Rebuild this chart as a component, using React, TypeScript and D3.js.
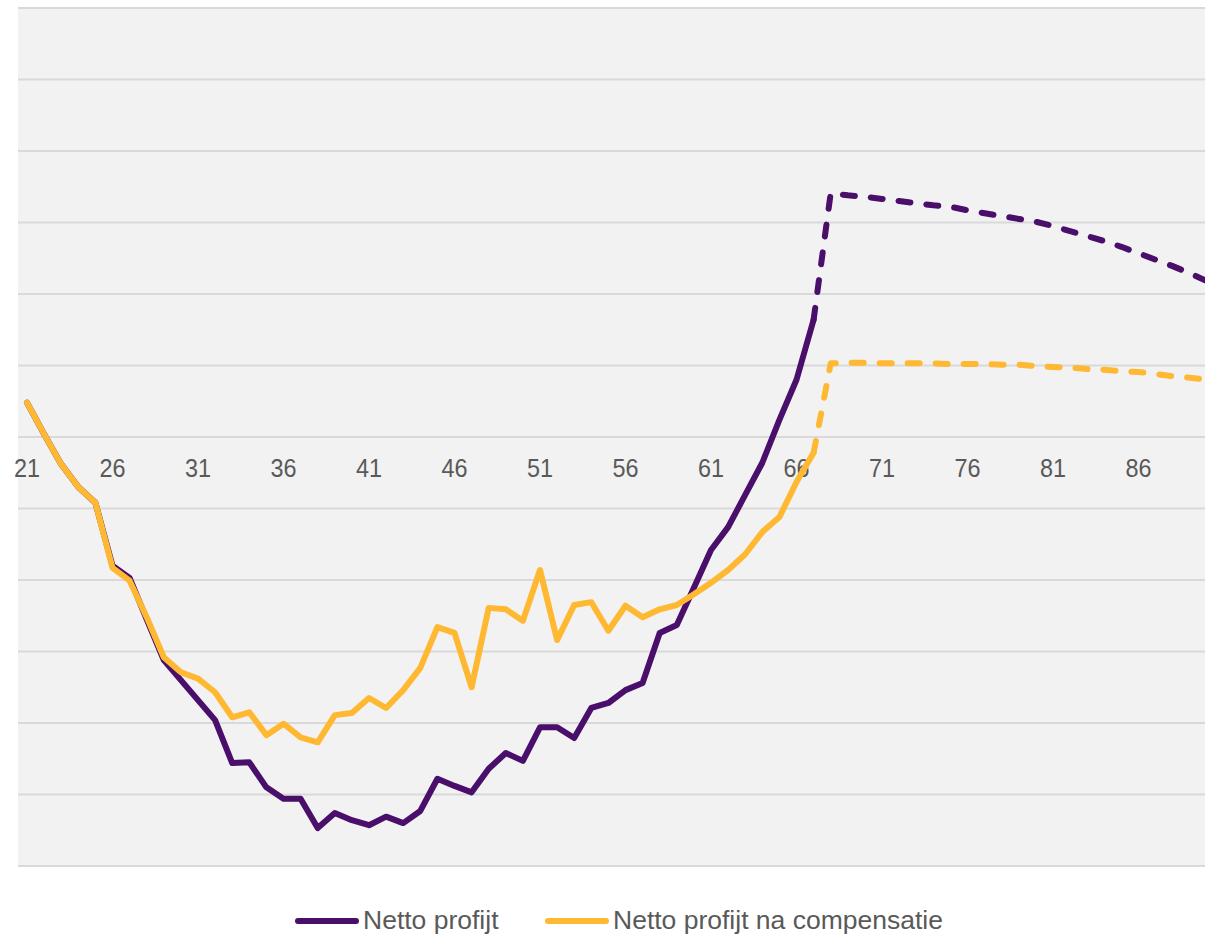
import React from "react";
import * as d3 from "d3";

// ages on the category axis
const ages = [
  21, 22, 23, 24, 25, 26, 27, 28, 29, 30, 31, 32, 33, 34, 35, 36, 37, 38, 39, 40,
  41, 42, 43, 44, 45, 46, 47, 48, 49, 50, 51, 52, 53, 54, 55, 56, 57, 58, 59, 60,
  61, 62, 63, 64, 65, 66, 67, 68, 69, 70, 71, 72, 73, 74, 75, 76, 77, 78, 79, 80,
  81, 82, 83, 84, 85, 86, 87, 88, 89, 90,
];

const tickLabels = ["21", "26", "31", "36", "41", "46", "51", "56", "61", "66", "71", "76", "81", "86"];

// Netto profijt (one unit = one gridline)
const nettoProfijt = [
  0.48, 0.04, -0.38, -0.7, -0.92, -1.8, -1.97, -2.55, -3.12, -3.4,
  -3.68, -3.96, -4.56, -4.55, -4.9, -5.06, -5.06, -5.47, -5.26, -5.36,
  -5.43, -5.31, -5.4, -5.23, -4.78, -4.88, -4.97, -4.64, -4.42, -4.53,
  -4.06, -4.06, -4.21, -3.79, -3.72, -3.54, -3.44, -2.74, -2.63, -2.11,
  -1.58, -1.26, -0.81, -0.36, 0.24, 0.8, 1.64, 3.41, 3.38, 3.36,
  3.33, 3.3, 3.27, 3.24, 3.22, 3.17, 3.13, 3.09, 3.05, 3.01,
  2.95, 2.88, 2.81, 2.74, 2.66, 2.57, 2.48, 2.39, 2.29, 2.18,
];

// Netto profijt na compensatie
const nettoNaCompensatie = [
  0.48, 0.04, -0.38, -0.7, -0.92, -1.83, -2.01, -2.52, -3.08, -3.29,
  -3.38, -3.57, -3.92, -3.85, -4.17, -4.01, -4.2, -4.27, -3.89, -3.86,
  -3.65, -3.79, -3.54, -3.23, -2.66, -2.74, -3.5, -2.39, -2.41, -2.57,
  -1.86, -2.84, -2.35, -2.31, -2.71, -2.36, -2.52, -2.41, -2.35, -2.2,
  -2.04, -1.86, -1.64, -1.33, -1.12, -0.63, -0.22, 1.03, 1.04, 1.04,
  1.03, 1.03, 1.03, 1.03, 1.02, 1.02, 1.02, 1.01, 1.01, 0.99,
  0.98, 0.97, 0.95, 0.94, 0.92, 0.91, 0.88, 0.85, 0.83, 0.8,
];

const lastActualAge = 67; // after this the lines are projected (dashed)

const seriesNames = ["Netto profijt", "Netto profijt na compensatie"];
const colors = ["#4a0e6b", "#ffb832"];

function drawChart(svgRef) {
  const W = 1205;
  const H = 937;
  const svg = d3.select(svgRef.current);
  svg.selectAll("*").remove();
  svg.attr("width", W).attr("height", H);

  const left = 18;
  const top = 8;
  const bottom = 866;

  const x = d3
    .scalePoint()
    .domain(ages)
    .range([27, 27 + (ages.length - 1) * 17.1]);
  const y = d3.scaleLinear().domain([-6, 6]).range([bottom, top]);

  svg
    .append("rect")
    .attr("x", left)
    .attr("y", top - 1)
    .attr("width", W - left)
    .attr("height", bottom - top + 1)
    .attr("fill", "#f2f2f2");

  // gridlines
  svg
    .append("g")
    .selectAll("line")
    .data(d3.range(-6, 7))
    .join("line")
    .attr("x1", left)
    .attr("x2", W)
    .attr("y1", (d) => y(d))
    .attr("y2", (d) => y(d))
    .attr("stroke", "#d9d9d9")
    .attr("stroke-width", 2);

  // category labels sit just under the zero line
  svg
    .append("g")
    .selectAll("text")
    .data(tickLabels)
    .join("text")
    .attr("transform", (d) => `translate(${x(+d)},477) scale(0.9,1)`)
    .attr("text-anchor", "middle")
    .attr("font-family", "'Liberation Sans', Arial, sans-serif")
    .attr("font-size", 26)
    .attr("fill", "#595959")
    .text((d) => d);

  const line = d3
    .line()
    .x((d) => x(d.age))
    .y((d) => y(d.v));

  svg
    .append("clipPath")
    .attr("id", "plotclip")
    .append("rect")
    .attr("x", left)
    .attr("y", 0)
    .attr("width", W - left)
    .attr("height", H);

  const plot = svg.append("g").attr("clip-path", "url(#plotclip)");

  [nettoProfijt, nettoNaCompensatie].forEach((vals, i) => {
    const pts = ages.map((a, j) => ({ age: a, v: vals[j] }));
    const actual = pts.filter((p) => p.age <= lastActualAge);
    const projected = pts.filter((p) => p.age >= lastActualAge);

    plot
      .append("path")
      .datum(projected)
      .attr("fill", "none")
      .attr("stroke", colors[i])
      .attr("stroke-width", 6)
      .attr("stroke-linejoin", "round")
      .attr("stroke-linecap", "round")
      .attr("stroke-dasharray", "12 16")
      .attr("d", line);

    plot
      .append("path")
      .datum(actual)
      .attr("fill", "none")
      .attr("stroke", colors[i])
      .attr("stroke-width", 6)
      .attr("stroke-linejoin", "round")
      .attr("stroke-linecap", "round")
      .attr("d", line);
  });

  // legend
  const legendItems = [
    { x1: 298, x2: 356, tx: 363 },
    { x1: 548, x2: 606, tx: 613 },
  ];
  const legend = svg.append("g");
  legendItems.forEach((it, i) => {
    legend
      .append("line")
      .attr("x1", it.x1)
      .attr("x2", it.x2)
      .attr("y1", 921)
      .attr("y2", 921)
      .attr("stroke", colors[i])
      .attr("stroke-width", 6)
      .attr("stroke-linecap", "round");
    legend
      .append("text")
      .attr("x", it.tx)
      .attr("y", 928.5)
      .attr("font-family", "'Liberation Sans', Arial, sans-serif")
      .attr("font-size", 26.5)
      .attr("fill", "#595959")
      .text(seriesNames[i]);
  });
}

const App = () => {
  const svg = React.useRef(null);

  React.useEffect(() => {
    drawChart(svg);
  }, [svg]);

  return (
    <div>
      <svg
        ref={svg}
        style={{ position: "absolute", left: 0, top: 0, display: "block", background: "#fff" }}
      />
    </div>
  );
};

export default App;
